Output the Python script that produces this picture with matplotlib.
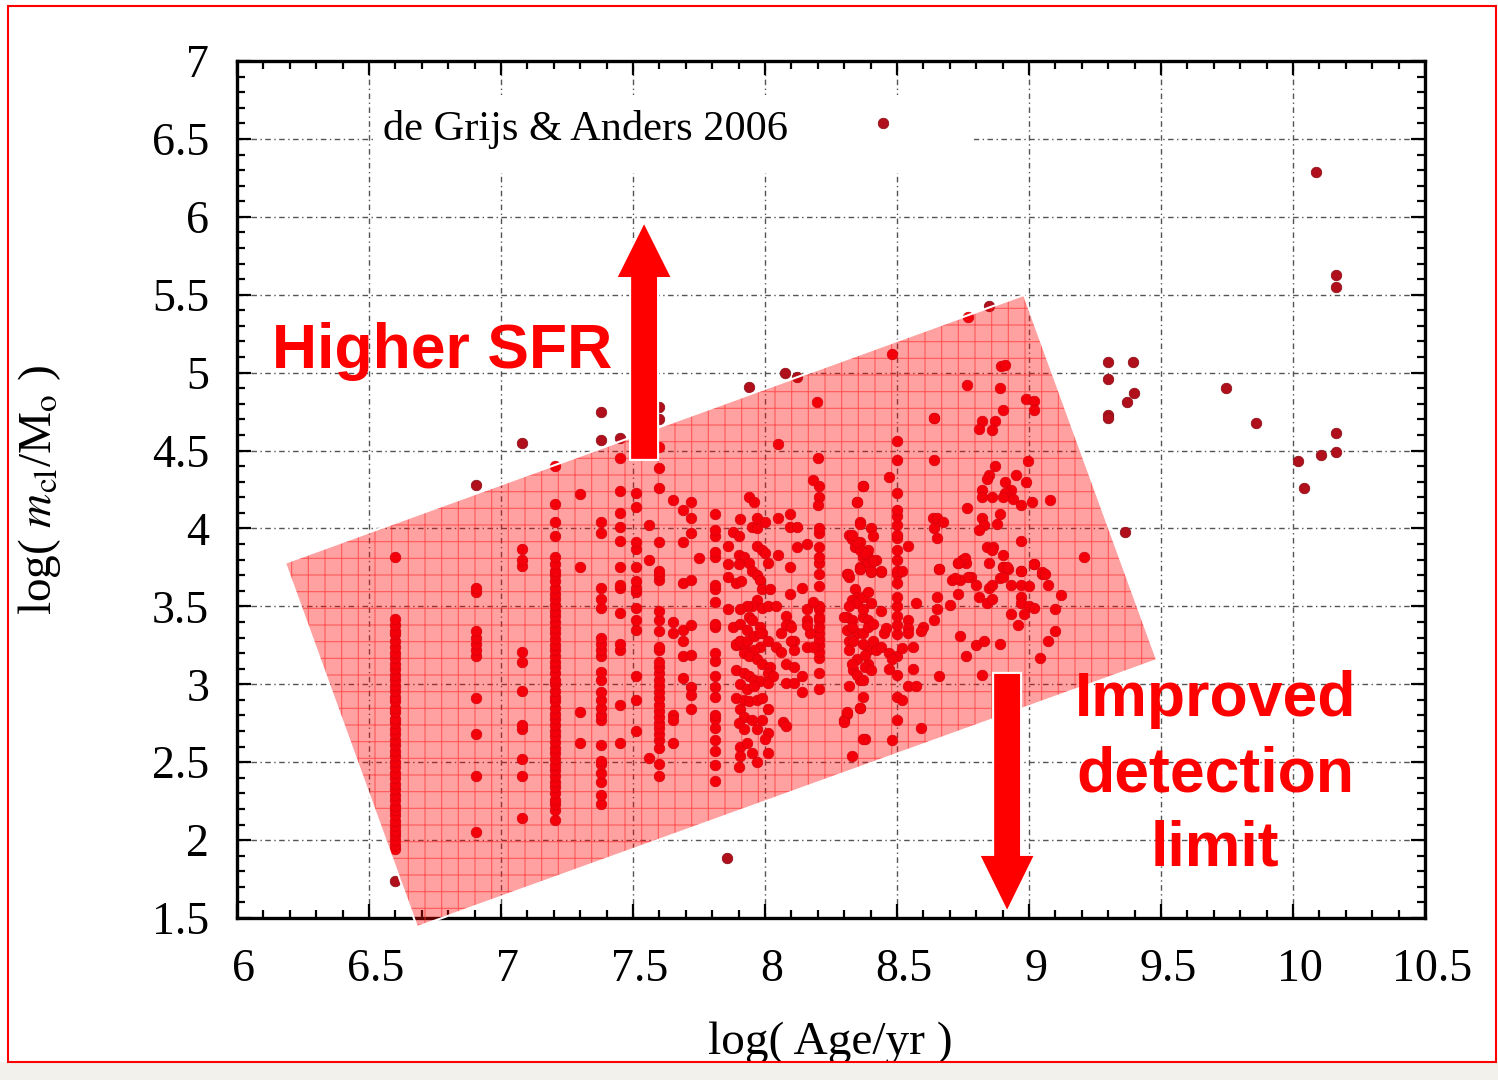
import matplotlib
matplotlib.use('Agg')
import matplotlib.pyplot as plt
import matplotlib.transforms as mtransforms
from matplotlib.patches import Polygon, FancyArrow, Rectangle
from matplotlib.path import Path
import numpy as np

plt.rcParams['font.family'] = ['Liberation Serif', 'DejaVu Serif']
plt.rcParams['mathtext.fontset'] = 'stix'
plt.rcParams['hatch.linewidth'] = 0.8
plt.rcParams['hatch.color'] = (1.0, 0.15, 0.15, 0.6)

# ---------------- data ----------------
x_ticks = [6, 6.5, 7, 7.5, 8, 8.5, 9, 9.5, 10, 10.5]
x_tick_labels = ['6', '6.5', '7', '7.5', '8', '8.5', '9', '9.5', '10', '10.5']
y_ticks = [1.5, 2, 2.5, 3, 3.5, 4, 4.5, 5, 5.5, 6, 6.5, 7]
y_tick_labels = ['1.5', '2', '2.5', '3', '3.5', '4', '4.5', '5', '5.5', '6', '6.5', '7']

# clusters sharing a single age value
age_660 = 6.60
mass_660 = [1.74, 1.94, 1.97, 2.00, 2.03, 2.06, 2.09, 2.12, 2.16, 2.19, 2.22, 2.26, 2.29,
            2.33, 2.36, 2.40, 2.43, 2.47, 2.50, 2.54, 2.57, 2.61, 2.64, 2.68, 2.71, 2.75,
            2.78, 2.82, 2.85, 2.89, 2.92, 2.96, 2.99, 3.03, 3.06, 3.10, 3.13, 3.17, 3.20,
            3.24, 3.28, 3.32, 3.34, 3.38, 3.42, 3.82]
age_690 = 6.905
mass_690 = [2.05, 2.41, 2.68, 2.91, 3.18, 3.22, 3.26, 3.30, 3.34, 3.59, 3.62, 4.28]
age_708 = 7.08
mass_708 = [2.14, 2.41, 2.52, 2.71, 2.74, 2.96, 3.14, 3.21, 3.76, 3.80, 3.87, 4.55]
age_720 = 7.205
mass_720 = [2.13, 2.19, 2.23, 2.26, 2.30, 2.34, 2.37, 2.41, 2.45, 2.48, 2.52, 2.56, 2.59,
            2.63, 2.67, 2.70, 2.74, 2.78, 2.81, 2.85, 2.89, 2.92, 2.96, 3.00, 3.03, 3.07,
            3.11, 3.14, 3.18, 3.22, 3.25, 3.29, 3.33, 3.36, 3.40, 3.44, 3.47, 3.51, 3.55,
            3.58, 3.62, 3.66, 3.70, 3.73, 3.77, 3.82, 3.95, 4.04, 4.16, 4.40]
age_730 = 7.30
mass_730 = [2.62, 2.82, 3.75, 4.22]
age_738 = 7.38
mass_738 = [2.23, 2.29, 2.37, 2.43, 2.49, 2.51, 2.61, 2.77, 2.80, 2.85, 2.90, 2.95, 3.03,
            3.08, 3.18, 3.22, 3.26, 3.30, 3.49, 3.55, 3.62, 3.97, 4.04, 4.57, 4.75]
age_745 = 7.45
mass_745 = [2.62, 2.87, 3.22, 3.26, 3.46, 3.62, 3.64, 3.75, 3.92, 4.01, 4.10, 4.24, 4.45, 4.58]
age_751 = 7.51
mass_751 = [2.70, 2.90, 3.05, 3.35, 3.41, 3.49, 3.59, 3.62, 3.66, 3.75, 3.87, 3.91, 4.14, 4.23]
age_760 = 7.60
mass_760 = [2.41, 2.49, 2.59, 2.64, 2.68, 2.72, 2.75, 2.79, 2.83, 2.87, 2.91, 2.95, 2.99,
            3.03, 3.07, 3.11, 3.14, 3.22, 3.24, 3.34, 3.41, 3.47, 3.67, 3.70, 3.73, 3.91,
            4.26, 4.39, 4.52, 4.70, 4.78]
age_781 = 7.81
mass_781 = [2.38, 2.48, 2.57, 2.64, 2.72, 2.78, 2.80, 2.92, 2.98, 3.05, 3.15, 3.20, 3.37,
            3.39, 3.53, 3.61, 3.64, 3.82, 3.85, 3.95, 3.99, 4.09]
age_821 = 8.205
mass_821 = [2.97, 3.07, 3.17, 3.21, 3.25, 3.29, 3.33, 3.37, 3.41, 3.43, 3.48, 3.50, 3.63,
            3.71, 3.78, 3.82, 3.88, 3.97, 4.00, 4.20, 4.27]
age_850 = 8.50
mass_850 = [2.77, 2.92, 3.06, 3.18, 3.32, 3.38, 3.44, 3.50, 3.56, 3.65, 3.71, 3.73, 3.80,
            3.86, 3.94, 3.96, 4.02, 4.08, 4.12, 4.23, 4.44, 4.56]

# scattered clusters
age_a = [7.56, 7.56, 7.56, 7.65, 7.65, 7.65, 7.65, 7.65, 7.65, 7.69, 7.69, 7.69, 7.69,
         7.69, 7.69, 7.69, 7.72, 7.72, 7.72, 7.72, 7.72, 7.72, 7.72, 7.72, 7.72, 7.75]
mass_a = [4.02, 3.80, 2.53, 4.18, 3.40, 3.33, 2.80, 2.77, 2.62, 4.12, 3.91, 3.65, 3.35,
          3.28, 3.18, 3.04, 4.17, 4.07, 3.97, 3.67, 3.38, 3.19, 2.98, 2.93, 2.84, 3.81]

age_b = [7.86, 7.86, 7.86, 7.86, 7.88, 7.905, 7.90, 7.90, 7.92, 7.90, 7.89, 7.91, 7.94,
         7.96, 7.95, 7.97, 7.97, 8.00, 7.97, 7.99, 8.00, 8.01, 7.94, 7.95, 7.97, 7.98,
         7.99, 8.02, 7.97, 7.95, 7.93, 7.905, 7.99, 8.01, 7.94, 7.95, 7.98, 7.99, 7.905,
         7.92, 7.89, 8.05, 8.095, 8.095, 8.12, 8.05, 8.095, 8.12, 8.16, 8.14, 8.095, 8.04,
         8.08, 8.095, 8.11, 8.06, 8.16, 8.16, 8.17, 8.16, 8.18, 8.05, 8.18, 8.20, 8.20,
         8.197, 7.856, 7.94, 8.075, 8.12]
mass_b = [3.89, 3.77, 3.69, 3.48, 3.98, 4.06, 3.95, 3.83, 3.82, 3.77, 3.65, 3.66, 4.20,
          4.17, 4.01, 4.00, 4.07, 4.04, 3.89, 3.86, 3.84, 3.78, 3.78, 3.73, 3.70, 3.67,
          3.61, 3.61, 3.54, 3.50, 3.50, 3.48, 3.49, 3.50, 3.43, 3.41, 3.37, 3.33, 3.28,
          3.24, 3.25, 4.07, 4.09, 4.01, 4.01, 3.83, 3.75, 3.88, 3.90, 3.62, 3.58, 3.50,
          3.44, 3.38, 3.28, 3.33, 3.48, 3.41, 3.33, 3.24, 3.53, 4.54, 4.31, 4.15, 4.45,
          4.81, 1.885, 4.91, 5.00, 4.97]

age_c = [7.88, 7.905, 7.93, 7.89, 7.905, 7.93, 7.96, 7.98, 8.01, 7.98, 7.96, 7.92, 7.94,
         7.97, 7.99, 8.02, 8.01, 8.03, 7.89, 7.92, 7.94, 7.96, 7.98, 8.01, 7.905, 7.93,
         7.96, 7.89, 7.92, 7.94, 7.97, 7.99, 7.905, 7.92, 7.95, 7.99, 7.90, 7.92, 7.97,
         8.01, 8.00, 7.905, 7.93, 7.905, 7.95, 7.97, 8.01, 8.01, 7.90, 8.08, 8.10, 8.04,
         8.06, 8.10, 8.11, 8.08, 8.11, 8.14, 8.08, 8.11, 8.14, 8.07, 8.08, 8.16, 8.18]
mass_c = [3.37, 3.39, 3.35, 3.26, 3.28, 3.28, 3.31, 3.33, 3.28, 3.24, 3.22, 3.20, 3.18,
          3.16, 3.13, 3.11, 3.07, 3.05, 3.09, 3.07, 3.05, 3.03, 3.02, 3.01, 3.00, 2.97,
          2.99, 2.91, 2.90, 2.89, 2.90, 2.91, 2.84, 2.79, 2.77, 2.77, 2.75, 2.71, 2.71,
          2.69, 2.65, 2.60, 2.62, 2.54, 2.56, 2.50, 2.56, 2.84, 2.47, 3.38, 3.37, 3.24,
          3.21, 3.28, 3.22, 3.13, 3.11, 3.05, 3.01, 3.01, 2.95, 2.76, 2.73, 3.38, 3.24]

age_d = [8.36, 8.32, 8.33, 8.35, 8.36, 8.39, 8.37, 8.39, 8.31, 8.32, 8.36, 8.34, 8.35,
         8.33, 8.35, 8.37, 8.39, 8.32, 8.31, 8.33, 8.32, 8.35, 8.32, 8.37, 8.39, 8.37,
         8.37, 8.35, 8.31, 8.335, 8.32, 8.35, 8.335, 8.36, 8.32, 8.37, 8.36, 8.31, 8.30,
         8.38, 8.33, 8.39, 8.39, 8.39, 8.315, 8.36, 8.40, 8.40, 8.44, 8.42, 8.40, 8.44,
         8.38, 8.41, 8.41, 8.38, 8.45, 8.46, 8.42, 8.44, 8.47, 8.48, 8.47, 8.37, 8.36,
         8.31, 8.30, 8.37, 8.33, 8.48, 8.30, 8.34, 8.36, 8.35, 8.38, 8.39, 8.41, 8.44,
         8.36, 8.40, 8.37, 8.35, 8.33, 8.40, 8.37]
mass_d = [4.04, 3.96, 3.93, 3.88, 3.91, 3.86, 3.82, 3.82, 3.71, 3.69, 3.75, 3.61, 3.56,
          3.54, 3.52, 3.56, 3.59, 3.50, 3.43, 3.41, 3.35, 3.33, 3.28, 3.43, 3.41, 3.33,
          4.27, 4.17, 3.35, 3.28, 3.22, 3.16, 3.09, 3.03, 2.99, 2.92, 2.85, 2.81, 2.77,
          2.65, 2.54, 3.37, 3.22, 3.13, 3.71, 3.74, 3.78, 3.72, 3.72, 3.80, 3.52, 3.47,
          3.19, 3.39, 3.28, 3.11, 3.33, 3.36, 3.22, 3.24, 3.20, 3.16, 3.10, 2.65, 2.85,
          2.82, 2.76, 3.48, 3.37, 2.64, 3.43, 3.88, 3.86, 3.91, 3.84, 3.78, 3.79, 3.73,
          3.74, 3.73, 3.26, 3.06, 3.13, 3.09, 3.03]

age_e = [8.52, 8.54, 8.54, 8.54, 8.52, 8.56, 8.56, 8.54, 8.57, 8.52, 8.59, 8.57, 8.60,
         8.59, 8.66, 8.65, 8.65, 8.64, 8.66, 8.73, 8.76, 8.71, 8.74, 8.78, 8.73, 8.80,
         8.81, 8.85, 8.86, 8.90, 8.92, 8.89, 8.84, 8.86, 8.93, 8.97, 8.97, 9.00, 9.02,
         9.05, 9.07, 9.12, 8.97, 8.97, 9.00, 8.98, 9.02, 8.93, 8.96, 9.10, 9.10, 9.07,
         8.70, 8.74, 8.80, 8.83, 8.89, 8.76, 8.82, 9.04, 8.54, 8.635, 8.65, 8.675, 8.64,
         8.65, 8.745, 8.757, 8.73, 8.66, 8.72, 8.77, 8.90]
mass_e = [3.23, 3.41, 3.36, 3.33, 3.73, 3.24, 3.10, 2.99, 2.99, 2.90, 2.72, 3.52, 3.37,
          3.34, 3.74, 3.56, 3.48, 3.41, 3.05, 3.78, 3.78, 3.67, 3.67, 3.69, 3.58, 3.64,
          3.56, 3.62, 3.64, 3.75, 3.74, 3.68, 3.52, 3.55, 3.64, 3.73, 3.64, 3.63, 3.77,
          3.71, 3.64, 3.57, 3.56, 3.52, 3.50, 3.45, 3.49, 3.45, 3.38, 3.48, 3.34, 3.28,
          3.51, 3.31, 3.25, 3.28, 3.26, 3.18, 3.06, 3.17, 3.89, 4.07, 4.07, 4.04, 4.00,
          3.94, 3.80, 3.81, 3.78, 3.74, 3.68, 3.69, 3.69]

age_f = [8.48, 8.895, 8.91, 8.764, 8.89, 8.99, 9.02, 9.02, 8.90, 8.64, 8.82, 8.87, 8.81,
         8.86, 8.995, 8.47, 8.37, 8.87, 8.85, 8.84, 8.95, 8.91, 8.99, 8.82, 8.93, 8.91,
         8.86, 8.82, 8.90, 8.94, 8.97, 9.01, 9.08, 8.35, 8.764, 8.89, 8.36, 8.40, 8.41,
         8.33, 8.82, 8.88, 8.83, 8.81, 8.84, 8.865, 8.86, 8.90, 8.97, 8.85, 8.90, 8.915,
         8.97, 9.02, 9.05, 9.06, 8.64, 8.64]
mass_f = [5.12, 5.04, 5.05, 4.92, 4.90, 4.83, 4.82, 4.76, 4.76, 4.71, 4.69, 4.69, 4.64,
          4.63, 4.43, 4.33, 4.27, 4.40, 4.34, 4.32, 4.34, 4.30, 4.30, 4.25, 4.25, 4.23,
          4.20, 4.20, 4.20, 4.19, 4.15, 4.17, 4.18, 4.17, 4.13, 4.09, 4.03, 4.00, 3.95,
          3.96, 4.07, 4.03, 4.02, 3.99, 3.88, 3.88, 3.86, 3.83, 3.92, 3.78, 3.75, 3.75,
          3.73, 3.77, 3.72, 3.71, 4.44, 4.71]

age_outer = [8.447, 8.77, 8.85, 9.30, 9.394, 9.30, 9.398, 9.37, 9.30, 9.30, 9.746, 9.86,
             10.087, 10.163, 10.163, 10.163, 10.163, 10.106, 10.02, 10.04, 9.364, 9.21]
mass_outer = [6.60, 5.36, 5.43, 5.07, 5.07, 4.96, 4.87, 4.81, 4.73, 4.71, 4.90, 4.68,
              6.29, 5.627, 5.55, 4.61, 4.49, 4.47, 4.43, 4.26, 3.98, 3.82]

# ---------------- assemble ----------------
col_ages = [age_660, age_690, age_708, age_720, age_730, age_738, age_745, age_751,
            age_760, age_781, age_821, age_850]
col_masses = [mass_660, mass_690, mass_708, mass_720, mass_730, mass_738, mass_745,
              mass_751, mass_760, mass_781, mass_821, mass_850]
ages = []
masses = []
for a, ms in zip(col_ages, col_masses):
    ages += [a] * len(ms)
    masses += list(ms)
for a_list, m_list in [(age_a, mass_a), (age_b, mass_b), (age_c, mass_c), (age_d, mass_d),
                       (age_e, mass_e), (age_f, mass_f), (age_outer, mass_outer)]:
    ages += list(a_list)
    masses += list(m_list)
ages = np.array(ages)
masses = np.array(masses)

# ---------------- figure ----------------
fig = plt.figure(figsize=(14.98, 10.8), dpi=100)
fig.patch.set_facecolor('white')

# bottom strip and red frame
fig.patches.append(Rectangle((0, 0), 1, 0.0167, transform=fig.transFigure,
                             facecolor='#f3f1eb', edgecolor='none', zorder=0))
fig.patches.append(Rectangle((0.0053, 0.0167), 0.9934, 0.9777, transform=fig.transFigure,
                             facecolor='none', edgecolor='red', linewidth=1.5, zorder=1))

ax = fig.add_axes([0.1582, 0.15, 0.7931, 0.7935])
ax.set_xlim(6, 10.5)
ax.set_ylim(1.5, 7)

ax.set_xticks(x_ticks)
ax.set_xticklabels(x_tick_labels)
ax.set_yticks(y_ticks)
ax.set_yticklabels(y_tick_labels)
ax.set_xticks(np.arange(6, 10.51, 0.1), minor=True)
ax.set_yticks(np.arange(1.5, 7.01, 0.1), minor=True)
ax.tick_params(which='both', direction='in', top=True, right=True, width=1.6,
               color='black')
ax.tick_params(which='major', length=10, labelsize=33)
ax.tick_params(axis='x', which='major', pad=22)
ax.tick_params(axis='y', which='major', pad=20)
ax.tick_params(which='minor', length=5.5)
shift = mtransforms.ScaledTranslation(0.07, 0, fig.dpi_scale_trans)
for lbl in ax.get_xticklabels():
    lbl.set_transform(lbl.get_transform() + shift)
for sp in ax.spines.values():
    sp.set_linewidth(2.4)

ax.grid(True, which='major', color='#555555', linewidth=1.0,
        linestyle=(0, (4, 2.5, 1, 2.5)), zorder=0.5)
ax.set_axisbelow(True)

# blank box behind the citation
ax.add_patch(Rectangle((6.52, 6.28), 2.27, 0.50, facecolor='white', edgecolor='none',
                       zorder=1))
ax.text(6.553, 6.494, 'de Grijs & Anders 2006', fontsize=30.5, ha='left',
        va='baseline', zorder=5)

# tilted highlight rectangle
corners = [(6.182, 3.779), (8.981, 5.499), (9.485, 3.156), (6.682, 1.442)]
inside = Path(corners + [corners[0]]).contains_points(np.column_stack([ages, masses]))

ax.scatter(ages[~inside], masses[~inside], s=58, color='#b0101c', edgecolors='#880a12',
           linewidths=0.5, zorder=2)

ax.add_patch(Polygon(corners, closed=True, facecolor=(1.0, 0.0, 0.0, 0.37),
                     hatch='+', clip_on=False, zorder=3, linewidth=0))

# points seen through the overlay appear bright red
ax.scatter(ages[inside], masses[inside], s=58, color='#f4000a', edgecolors='#d8000a',
           linewidths=0.5, zorder=3.05)

ax.add_patch(Polygon(corners, closed=True, facecolor='none', edgecolor='white',
                     linewidth=1.5, clip_on=False, zorder=3.1))

# arrows
ax.add_patch(FancyArrow(7.542, 4.44, 0, 1.527, width=0.106, head_width=0.212,
                        head_length=0.36, length_includes_head=True,
                        facecolor='#ff0000', edgecolor='white', linewidth=1.5,
                        zorder=4, clip_on=False))
ax.add_patch(FancyArrow(8.917, 3.073, 0, -1.534, width=0.106, head_width=0.212,
                        head_length=0.366, length_includes_head=True,
                        facecolor='#ff0000', edgecolor='white', linewidth=1.5,
                        zorder=4, clip_on=False))

bold = dict(family=['Liberation Sans', 'DejaVu Sans'], fontweight='bold', color='#ff0000',
            fontsize=45, zorder=5)
ax.text(6.133, 5.03, 'Higher SFR', ha='left', va='baseline', **bold)
ax.text(9.705, 2.797, 'Improved', ha='center', va='baseline', **bold)
ax.text(9.705, 2.309, 'detection', ha='center', va='baseline', **bold)
ax.text(9.705, 1.834, 'limit', ha='center', va='baseline', **bold)

ax.set_xlabel('log( Age/yr )', fontsize=34)
ax.xaxis.label.set_va('center')
ax.xaxis.set_label_coords(0.499, -0.145)
ax.set_ylabel(r'log( $m_{\rm cl}$/M$_{\rm o}$ )', fontsize=34)
ax.yaxis.label.set_va('center')
ax.yaxis.set_label_coords(-0.166, 0.499)

fig.savefig('out.png', dpi=100, facecolor='white')
